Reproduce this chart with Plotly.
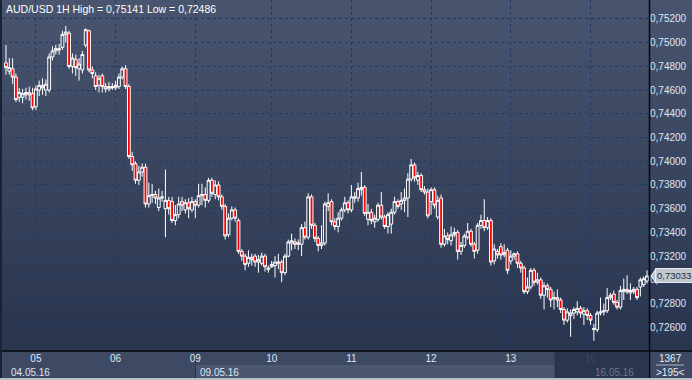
import plotly.graph_objects as go

# ---------------- data ----------------
open_ = [
 .7483,.7476,.7478,.7471,.7454,.7454,.7456,.7458,.7457,.7446,
 .7460,.7464,.7460,.7460,.7488,.7493,.7495,.7496,.7507,.7508,
 .7480,.7486,.7478,.7477,.7498,.7510,.7477,.7472,.7464,.7472,
 .7463,.7461,.7463,.7462,.7463,.7471,.7478,.7463,.7404,.7398,
 .7384,.7391,.7395,.7364,.7371,.7372,.7361,.7369,.7360,.7367,
 .7366,.7350,.7355,.7366,.7359,.7365,.7359,.7366,.7363,.7371,
 .7372,.7367,.7384,.7372,.7380,.7370,.7362,.7338,.7352,.7359,
 .7350,.7324,.7320,.7314,.7319,.7320,.7315,.7314,.7320,.7310,
 .7311,.7312,.7314,.7315,.7306,.7320,.7331,.7332,.7330,.7330,
 .7344,.7336,.7370,.7346,.7335,.7329,.7331,.7362,.7366,.7349,
 .7345,.7352,.7359,.7365,.7359,.7370,.7369,.7376,.7378,.7351,
 .7357,.7349,.7351,.7363,.7353,.7345,.7347,.7357,.7366,.7364,
 .7367,.7369,.7385,.7397,.7384,.7388,.7376,.7374,.7366,.7376,
 .7353,.7369,.7330,.7337,.7333,.7338,.7340,.7324,.7329,.7336,
 .7341,.7330,.7325,.7346,.7350,.7344,.7350,.7316,.7324,.7328,
 .7321,.7325,.7316,.7320,.7322,.7314,.7310,.7290,.7294,.7308,
 .7298,.7300,.7287,.7295,.7292,.7284,.7285,.7283,.7275,.7266,
 .7270,.7272,.7273,.7276,.7271,.7274,.7270,.7258,.7258,.7272,
 .7273,.7274,.7285,.7288,.7281,.7277,.7290,.7292,.7289,.7290,
 .7292,.7294,.7296,.7299]
high = [
 .7498,.7487,.7487,.7474,.7462,.7461,.7462,.7463,.7462,.7464,
 .7468,.7470,.7469,.7491,.7497,.7498,.7499,.7510,.75141,.7510,
 .7491,.7490,.7487,.7493,.7512,.7511,.7480,.7475,.7473,.7474,
 .7466,.7467,.7466,.7468,.7474,.7480,.7481,.7465,.7408,.7400,
 .7396,.7398,.7398,.7382,.7381,.7375,.7377,.7375,.7393,.7370,
 .7370,.7363,.7370,.7370,.7368,.7369,.7370,.7368,.7381,.7381,
 .7378,.7386,.7386,.7384,.7383,.7372,.7364,.7356,.7362,.7361,
 .7352,.7326,.7322,.7325,.7322,.7322,.7321,.7323,.7322,.7312,
 .7316,.7320,.7322,.7317,.7322,.7334,.7339,.7335,.7334,.7347,
 .7349,.7373,.7372,.7348,.7337,.7346,.7366,.7373,.7368,.7352,
 .7357,.7361,.7370,.7367,.7380,.7374,.7382,.7391,.7380,.7364,
 .7360,.7355,.7365,.7374,.7355,.7357,.7360,.7370,.7368,.7374,
 .7377,.7390,.7402,.7399,.7391,.7390,.7379,.7377,.7378,.7378,
 .7371,.7372,.7343,.7340,.7345,.7344,.7342,.7332,.7339,.7348,
 .7343,.7332,.7348,.7355,.7368,.7353,.7352,.7330,.7326,.7331,
 .7330,.7327,.7325,.7323,.7324,.7316,.7312,.7302,.7310,.7310,
 .7306,.7302,.7298,.7297,.7294,.7290,.7292,.7285,.7277,.7276,
 .7275,.7277,.7282,.7278,.7277,.7276,.7272,.7263,.7274,.7285,
 .7280,.7293,.7289,.7291,.7283,.7295,.7301,.7304,.7297,.7294,
 .7294,.7302,.7303,.7308]
low = [
 .7473,.7473,.7465,.7450,.7450,.7449,.7452,.7451,.7443,.7443,
 .7455,.7456,.7455,.7458,.7485,.7490,.7490,.7494,.7500,.7478,
 .7474,.7472,.7468,.7474,.7496,.7475,.7470,.7460,.7458,.7458,
 .7458,.7459,.7460,.7460,.7461,.7469,.7461,.7402,.7392,.7381,
 .7380,.7387,.7361,.7361,.7365,.7364,.7358,.7366,.7336,.7355,
 .7348,.7346,.7352,.7358,.7356,.7352,.7357,.7352,.7361,.7363,
 .7361,.7365,.7370,.7368,.7367,.7359,.7334,.7336,.7350,.7349,
 .7322,.7316,.7308,.7311,.7312,.7311,.7306,.7312,.7307,.7306,
 .7310,.7302,.7309,.7298,.7304,.7319,.7325,.7326,.7325,.7320,
 .7334,.7334,.7343,.7332,.7324,.7326,.7329,.7358,.7346,.7342,
 .7340,.7350,.7357,.7356,.7357,.7365,.7366,.7371,.7354,.7346,
 .7347,.7344,.7349,.7351,.7343,.7339,.7339,.7355,.7360,.7359,
 .7357,.7353,.7383,.7383,.7380,.7374,.7372,.7352,.7355,.7360,
 .7351,.7327,.7328,.7330,.7329,.7336,.7317,.7321,.7327,.7334,
 .7328,.7318,.7322,.7343,.7341,.7342,.7312,.7313,.7318,.7317,
 .7319,.7305,.7313,.7317,.7310,.7306,.7288,.7288,.7292,.7295,
 .7296,.7284,.7275,.7285,.7277,.7275,.7277,.7272,.7262,.7264,
 .7252,.7267,.7270,.7268,.7262,.7266,.7262,.72486,.7256,.7270,
 .7270,.7272,.7283,.7279,.7275,.7275,.7283,.7288,.7283,.7288,
 .7283,.7286,.7294,.7297]
close = [
 .7479,.7479,.7471,.7452,.7458,.7457,.7458,.7456,.7445,.7461,
 .7464,.7462,.7465,.7488,.7493,.7495,.7494,.7507,.7509,.7480,
 .7487,.7479,.7482,.7490,.7511,.7477,.7474,.7463,.7470,.7463,
 .7461,.7463,.7462,.7464,.7471,.7478,.7463,.7404,.7397,.7384,
 .7391,.7395,.7364,.7371,.7372,.7369,.7369,.7370,.7367,.7360,
 .7350,.7355,.7364,.7363,.7365,.7360,.7366,.7363,.7371,.7372,
 .7367,.7384,.7373,.7380,.7370,.7362,.7337,.7352,.7359,.7352,
 .7324,.7320,.7313,.7319,.7317,.7315,.7317,.7320,.7311,.7309,
 .7313,.7315,.7315,.7306,.7320,.7332,.7333,.7330,.7331,.7344,
 .7336,.7370,.7346,.7335,.7329,.7331,.7364,.7365,.7349,.7345,
 .7352,.7359,.7365,.7359,.7370,.7369,.7377,.7378,.7356,.7357,
 .7350,.7352,.7363,.7353,.7345,.7355,.7357,.7366,.7362,.7367,
 .7369,.7385,.7397,.7386,.7388,.7376,.7374,.7354,.7376,.7363,
 .7367,.7330,.7337,.7334,.7338,.7340,.7324,.7329,.7337,.7341,
 .7330,.7324,.7346,.7350,.7344,.7350,.7315,.7326,.7321,.7321,
 .7323,.7308,.7320,.7322,.7314,.7310,.7290,.7294,.7308,.7298,
 .7300,.7287,.7295,.7292,.7283,.7285,.7283,.7275,.7266,.7273,
 .7272,.7275,.7276,.7272,.7274,.7270,.7266,.7259,.7272,.7273,
 .7274,.7285,.7287,.7281,.7277,.7291,.7292,.7290,.7291,.7292,
 .7285,.7300,.7301,.73033]

day_labels = ["05", "06", "09", "10", "11", "12", "13", "16"]
day_start_index = [9, 33, 57, 80, 104, 128, 152, 176]
date_labels = ["04.05.16", "09.05.16", "16.05.16"]
price_ticks = [0.726, 0.728, 0.730, 0.732, 0.734, 0.736, 0.738,
               0.740, 0.742, 0.744, 0.746, 0.748, 0.750, 0.752]
title_text = "AUD/USD 1H High = 0,75141 Low = 0,72486"
bars_total = "1367"
bars_visible = ">195<"

# ---------------- figure ----------------
W, H = 692, 380
ML, MR, MT, MB = 3, 43, 0, 29
PW, PH = W - ML - MR, H - MT - MB

def px(xp):
    return (xp - ML) / PW

def py(yp):
    return (H - MB - yp) / PH

x = list(range(len(close)))

fig = go.Figure()
fig.add_trace(go.Candlestick(
    x=x, open=open_, high=high, low=low, close=close,
    increasing=dict(line=dict(color="#ffffff", width=1), fillcolor="rgba(0,0,0,0)"),
    decreasing=dict(line=dict(color="#ffffff", width=1), fillcolor="#ff0000"),
    whiskerwidth=0, hoverinfo="skip", showlegend=False,
))

shapes = []
# gradient background (plot + right axis panel)
N = 40
top = (73, 85, 111)
bot = (41, 52, 79)
for k in range(N):
    t = k / (N - 1)
    c = tuple(round(top[j] + (bot[j] - top[j]) * t) for j in range(3))
    shapes.append(dict(type="rect", xref="paper", yref="paper",
                       x0=px(0), x1=px(W), y0=1 - k / N, y1=1 - (k + 1) / N,
                       fillcolor="rgb(%d,%d,%d)" % c, line_width=0, layer="below"))
# bottom band
shapes.append(dict(type="rect", xref="paper", yref="paper", x0=px(0), x1=px(W),
                   y0=py(380), y1=py(351), fillcolor="#3e4a64", line_width=0, layer="below"))
shapes.append(dict(type="rect", xref="paper", yref="paper", x0=px(195), x1=px(555),
                   y0=py(378), y1=py(366), fillcolor="#4b5771", line_width=0, layer="below"))
shapes.append(dict(type="line", xref="paper", yref="paper", x0=px(195), x1=px(555),
                   y0=py(366), y1=py(366), line=dict(color="#56637d", width=1), layer="below"))
shapes.append(dict(type="line", xref="paper", yref="paper", x0=px(195.5), x1=px(195.5),
                   y0=py(378), y1=py(352), line=dict(color="#25304a", width=1), layer="below"))
# navigator dark overlay
shapes.append(dict(type="rect", xref="paper", yref="paper", x0=px(555), x1=px(648),
                   y0=py(378), y1=py(352), fillcolor="rgba(32,42,66,0.65)",
                   line=dict(color="#2a3550", width=1), layer="above"))
# frame lines
shapes.append(dict(type="line", xref="paper", yref="paper", x0=px(649.5), x1=px(649.5),
                   y0=py(378), y1=py(0), line=dict(color="#05080e", width=1.5), layer="above"))
shapes.append(dict(type="line", xref="paper", yref="paper", x0=px(0), x1=px(W),
                   y0=py(351), y1=py(351), line=dict(color="#05080e", width=1.5), layer="above"))
shapes.append(dict(type="line", xref="paper", yref="paper", x0=px(1), x1=px(1),
                   y0=py(378), y1=py(0), line=dict(color="#1a2236", width=2), layer="above"))
shapes.append(dict(type="rect", xref="paper", yref="paper", x0=px(0), x1=px(W),
                   y0=py(380), y1=py(378), fillcolor="#b9bec8", line_width=0, layer="above"))
# separator in bar counter
shapes.append(dict(type="line", xref="paper", yref="paper", x0=px(656), x1=px(684),
                   y0=py(365), y1=py(365), line=dict(color="#a9b4c8", width=1), layer="above"))
# last price marker arrow
last = close[-1]
shapes.append(dict(type="path", xref="paper", yref="y",
                   path="M %f,%f L %f,%f L %f,%f Z" % (px(651), last, px(656), last + 0.00062,
                                                       px(656), last - 0.00062),
                   fillcolor="#c3c7ce", line=dict(color="#e6eaf0", width=1), layer="above"))

FONT = "Liberation Sans, Arial, sans-serif"
ann = []
ann.append(dict(text=title_text, xref="paper", yref="paper", x=px(4), y=py(9),
                xanchor="left", yanchor="middle", showarrow=False,
                font=dict(family=FONT, size=10.5, color="#ffffff")))
date_x = [9, 198, 593]
date_col = ["#dfe8f5", "#dfe8f5", "#6b7893"]
for lbl, xx, cc in zip(date_labels, date_x, date_col):
    ann.append(dict(text=lbl, xref="paper", yref="paper", x=px(xx), y=py(372),
                    xanchor="left", yanchor="middle", showarrow=False,
                    font=dict(family=FONT, size=10, color=cc)))
ann.append(dict(text=bars_total, xref="paper", yref="paper", x=px(670), y=py(358),
                xanchor="center", yanchor="middle", showarrow=False,
                font=dict(family=FONT, size=10, color="#e6eef8")))
ann.append(dict(text=bars_visible, xref="paper", yref="paper", x=px(670), y=py(372),
                xanchor="center", yanchor="middle", showarrow=False,
                font=dict(family=FONT, size=10, color="#e6eef8")))
ann.append(dict(text=("%.5f" % last).replace(".", ","), xref="paper", yref="y",
                x=px(655), y=last, xanchor="left", yanchor="middle", showarrow=False,
                bgcolor="#c3c7ce", bordercolor="#e6eaf0", borderwidth=1, borderpad=1,
                font=dict(family=FONT, size=9.5, color="#1c2a48")))

ticktext = []
for lbl in day_labels:
    if lbl == "16":
        ticktext.append('<span style="color:#6b7893">%s</span>' % lbl)
    else:
        ticktext.append(lbl)

fig.update_layout(
    width=W, height=H,
    margin=dict(l=ML, r=MR, t=MT, b=MB, pad=0, autoexpand=False),
    paper_bgcolor="#3e4a64", plot_bgcolor="rgba(0,0,0,0)",
    separators=",.",
    boxgap=0.15, boxgroupgap=0,
    shapes=shapes, annotations=ann,
    showlegend=False,
    xaxis=dict(range=[-0.9, 193.6], tickvals=day_start_index, ticktext=ticktext,
               showgrid=True, gridcolor="#1d3a6b", griddash="dot", gridwidth=1,
               zeroline=False, showline=False, ticks="", rangeslider=dict(visible=False),
               automargin=False,
               tickfont=dict(family=FONT, size=10, color="#dfe8f5")),
    yaxis=dict(range=[0.7240, 0.7536], side="right", tickvals=price_ticks,
               tickformat=".5f", showgrid=True, gridcolor="#1d3a6b", griddash="dot",
               gridwidth=1, zeroline=False, showline=False, ticks="", automargin=False,
               tickfont=dict(family=FONT, size=10, color="#dfe8f5")),
)

fig.write_html("out.html", config={"displayModeBar": False},
               post_script="document.body.style.margin='0';document.body.style.padding='0';")
